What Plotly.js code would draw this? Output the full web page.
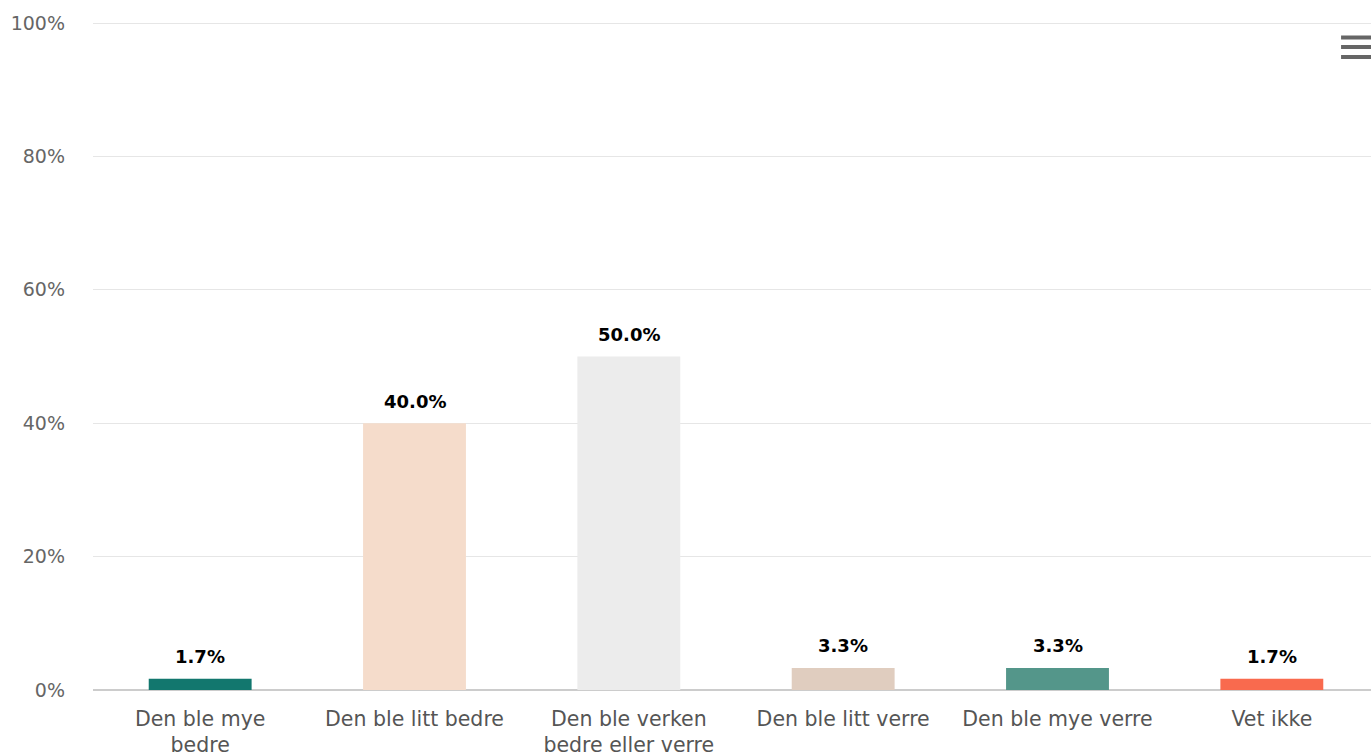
<!DOCTYPE html>
<html>
<head>
<meta charset="utf-8">
<script src="https://cdn.plot.ly/plotly-3.0.1.min.js"></script>
<style>
html,body{margin:0;padding:0;overflow:hidden;background:#fff;}
#chart{width:1390px;height:756px;}
</style>
</head>
<body>
<div id="chart"></div>
<script>
const categories = ["Den ble mye<br>bedre", "Den ble litt bedre", "Den ble verken<br>bedre eller verre", "Den ble litt verre", "Den ble mye verre", "Vet ikke"];
const values = [1.7, 40.0, 50.0, 3.3, 3.3, 1.7];
const barColors = ["#12776e", "#f5dccb", "#ececec", "#e0cdbf", "#54968a", "#f96a4e"];
const yTickVals = [0, 20, 40, 60, 80, 100];
const yTickText = ["0%", "20%", "40%", "60%", "80%", "100%"];

const trace = {
  type: "bar",
  x: categories,
  y: values,
  marker: {color: barColors, line: {width: 0}},
  hoverinfo: "none"
};

const labelAnnotations = categories.map((c, i) => ({
  x: c, y: values[i], xref: "x", yref: "y",
  text: values[i].toFixed(1) + "%",
  showarrow: false,
  yanchor: "middle",
  yshift: 22,
  font: {family: "DejaVu Sans", size: 18, color: "#000000", weight: "bold"}
}));

const menuLine = (y) => ({
  type: "line", xref: "paper", yref: "paper",
  x0: 0.9705, x1: 0.9985, y0: y, y1: y,
  line: {color: "#666666", width: 4}
});

const layout = {
  width: 1390,
  height: 756,
  margin: {l: 93, r: 11, t: 20, b: 66},
  paper_bgcolor: "#ffffff",
  plot_bgcolor: "#ffffff",
  showlegend: false,
  bargap: 0.52,
  font: {family: "DejaVu Sans", color: "#555555"},
  xaxis: {
    type: "category",
    showgrid: false,
    showline: false,
    zeroline: false,
    ticks: "",
    ticklabelstandoff: 14,
    tickfont: {family: "DejaVu Sans", size: 20.5, color: "#555555"},
    fixedrange: true
  },
  yaxis: {
    range: [0, 100.45],
    tickvals: yTickVals,
    ticktext: yTickText,
    showgrid: true,
    gridcolor: "#e6e6e6",
    gridwidth: 1,
    zeroline: true,
    zerolinecolor: "#cccccc",
    zerolinewidth: 2,
    showline: false,
    ticks: "",
    ticklabelstandoff: 27,
    tickfont: {family: "DejaVu Sans", size: 19, color: "#666666"},
    fixedrange: true
  },
  annotations: labelAnnotations,
  shapes: [menuLine(0.9738), menuLine(0.9597), menuLine(0.9448)]
};

Plotly.newPlot("chart", [trace], layout, {displayModeBar: false, staticPlot: true});
</script>
</body>
</html>
